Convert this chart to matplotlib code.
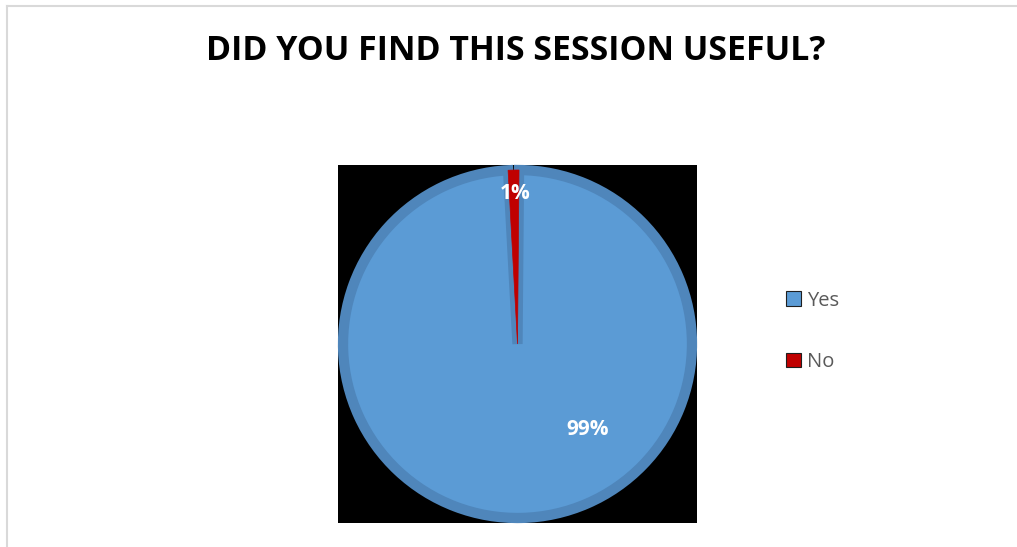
import matplotlib.pyplot as plt

# Data
labels = ["Yes", "No"]
shares = [99, 1]
colors = ["#5b9bd5", "#c00000"]
edge_colors = ["#4f86bb", "#000000"]
pct_labels = ["99%", "1%"]
label_pos = [(0.39, -0.48), (-0.015, 0.84)]

fig = plt.figure(figsize=(10.17, 5.47), dpi=100)

# chart area frame (left and top edges only)
fig.add_artist(plt.Line2D([6.5 / 1017, 6.5 / 1017], [0, 1 - 6 / 547], color="#d9d9d9", lw=1.5))
fig.add_artist(plt.Line2D([6.5 / 1017, 1], [1 - 6 / 547, 1 - 6 / 547], color="#d9d9d9", lw=1.5))

fig.text(516 / 1017, 1 - 51 / 547, "DID YOU FIND THIS SESSION USEFUL?", ha="center", va="center",
         fontsize=24.4, fontweight="bold", family="Open Sans", color="#000000")

ax = fig.add_axes([338 / 1017, 24 / 547, 359 / 1017, 358 / 547])

wedges, _ = ax.pie(shares, colors=colors, startangle=89.5, counterclock=False, radius=0.972,
                   wedgeprops=dict(linewidth=7.4))
wedges[0].set_edgecolor(edge_colors[0])
wedges[1].set_edgecolor(colors[1])
wedges[1].set_linewidth(0.5)
wedges[1].set_zorder(3)

# black plot area behind the pie
ax.set_frame_on(True)
ax.patch.set_visible(True)
ax.set_facecolor("black")

for txt, pos in zip(pct_labels, label_pos):
    ax.text(pos[0], pos[1], txt, ha="center", va="center", color="white",
            fontsize=15, fontweight="bold", family="Open Sans", zorder=5)

ax.set_xlim(-1, 1)
ax.set_ylim(-1, 1)
ax.set_aspect("auto")
ax.set_xticks([])
ax.set_yticks([])
for s in ax.spines.values():
    s.set_visible(False)

leg = fig.legend(wedges, labels, loc="center left", bbox_to_anchor=(768 / 1017, 1 - 331.5 / 547),
                 frameon=False, labelspacing=2.05, handlelength=0.75, handleheight=0.75,
                 handletextpad=0.3, prop={"family": "Open Sans", "size": 14.5})
for t in leg.get_texts():
    t.set_color("#595959")
for h in leg.legend_handles:
    h.set_linewidth(0.8)
    h.set_edgecolor("#1f1f1f")

fig.savefig("out.png", dpi=100, facecolor="white")
